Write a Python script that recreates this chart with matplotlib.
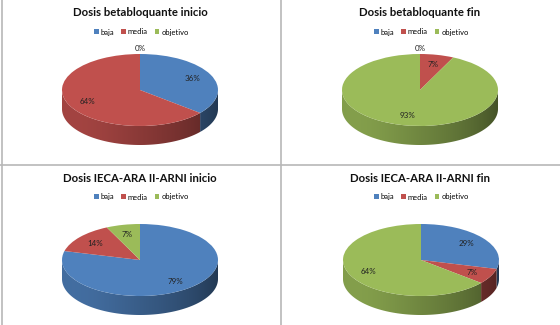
import numpy as np
import matplotlib.pyplot as plt
from matplotlib.lines import Line2D
from matplotlib.patches import Polygon
from matplotlib.colors import to_rgb

plt.rc('font', family=['Lato', 'DejaVu Sans'])

categories = ['baja', 'media', 'objetivo']
titles = ['Dosis betabloquante inicio', 'Dosis betabloquante fin',
          'Dosis IECA-ARA II-ARNI inicio', 'Dosis IECA-ARA II-ARNI fin']
beta_inicio = [36, 64, 0]
beta_fin = [0, 7, 93]
ieca_inicio = [79, 14, 7]
ieca_fin = [29, 7, 64]
series = [beta_inicio, beta_fin, ieca_inicio, ieca_fin]
colors = ['#4f81bd', '#c0504d', '#9bbb59']

W, H = 560, 325
fig = plt.figure(figsize=(5.6, 3.25), dpi=100)

# panel boxes in pixels: left, top, width, height
panels = [(0, 0, 280, 165), (280, 0, 280, 165), (0, 165, 280, 160), (280, 165, 280, 160)]
# pie center inside panel (px), semi axes, depth
centers = [(140, 90), (140, 90), (140, 95), (141, 95)]
ax_rx, ax_ry, depth_px = 78, 36, 19


def side(ax, vals, depth):
    # front wall of the pseudo 3d pie, shaded left (light) to right (dark)
    fr = np.array(vals, float) / sum(vals)
    edges = 90 - 360 * np.concatenate([[0], np.cumsum(fr)])
    xs = np.linspace(-1, 1, 200)
    shade = 0.72 - 0.2 * xs - 0.08 * xs ** 4
    for i in range(len(vals)):
        if fr[i] == 0:
            continue
        a0, a1 = edges[i + 1], edges[i]
        # keep only the lower half of the ellipse (front)
        segs = []
        for lo, hi in [(-180, 0), (180, 360), (-540, -360)]:
            s, e = max(a0, lo), min(a1, hi)
            if e > s:
                segs.append((s, e))
        base = np.array(to_rgb(colors[i]))
        img = np.clip(shade[None, :, None] * base[None, None, :], 0, 1)
        for s, e in segs:
            t = np.deg2rad(np.linspace(s, e, 100))
            x, y = np.cos(t), np.sin(t)
            pts = np.vstack([np.column_stack([x, y]), np.column_stack([x[::-1], y[::-1] - depth])])
            poly = Polygon(pts, closed=True, fc='none', ec='none')
            ax.add_patch(poly)
            im = ax.imshow(img, extent=(-1, 1, -1 - depth, 0.05), aspect='auto', zorder=0.5)
            im.set_clip_path(poly)


for k in range(4):
    px, py, pw, ph = panels[k]
    ax = fig.add_axes([px / W, 1 - (py + ph) / H, pw / W, ph / H])
    cx, cy = centers[k]
    vals = series[k]
    depth = depth_px / ax_ry
    side(ax, vals, depth)
    wedges, texts, autotexts = ax.pie(vals, colors=colors, startangle=90, counterclock=False,
                                      autopct='%.0f%%', pctdistance=0.74, radius=1,
                                      textprops={'fontsize': 5.8, 'color': '#222222'},
                                      wedgeprops={'lw': 0, 'zorder': 1})
    for v, t in zip(vals, autotexts):
        t.set_zorder(3)
        if v == 0:
            x, y = t.get_position()
            t.set_position((x / 0.74 * 1.15, y / 0.74 * 1.15))
    ax.set_aspect('auto')
    ax.set_xlim(-cx / ax_rx, (pw - cx) / ax_rx)
    ax.set_ylim(-(ph - cy) / ax_ry, cy / ax_ry)
    ax.axis('off')
    ax.text(0.5, 1 - 13 / ph, titles[k], transform=ax.transAxes, ha='center', va='center',
            fontsize=8.2, fontweight='bold', color='#111111')
    ax.legend(wedges, categories, loc='center', bbox_to_anchor=(0.505, 1 - 32 / ph), ncol=3,
              frameon=False, fontsize=5.4, handlelength=0.6, handleheight=0.6,
              handletextpad=0.3, columnspacing=0.9, borderpad=0)

# grey panel borders
lc = '#b8b8b8'
fig.add_artist(Line2D([1.5 / W, 1.5 / W], [0, 1], color=lc, lw=1.2))
fig.add_artist(Line2D([280.5 / W, 280.5 / W], [0, 1], color=lc, lw=1.2))
fig.add_artist(Line2D([0, 1], [1 - 165 / H, 1 - 165 / H], color=lc, lw=1.2))

fig.savefig('out.png', dpi=100)
